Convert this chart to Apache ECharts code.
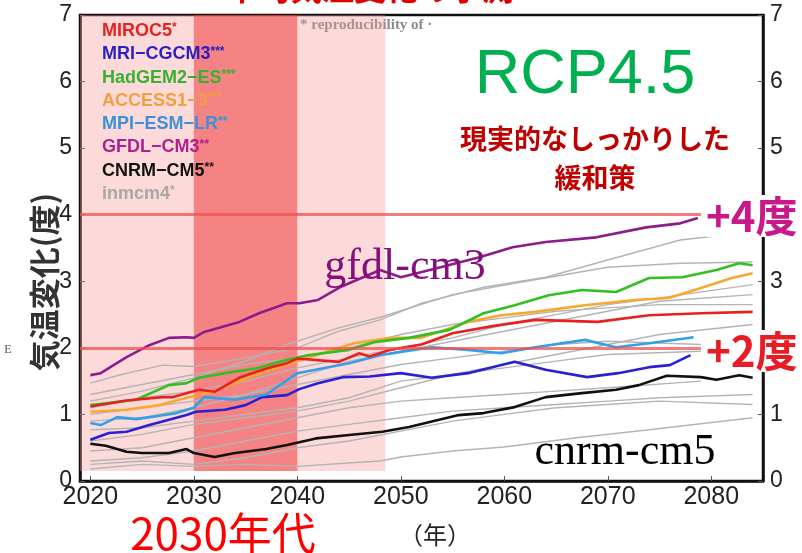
<!DOCTYPE html>
<html>
<head>
<meta charset="utf-8">
<script src="https://cdn.jsdelivr.net/npm/echarts@6/dist/echarts.min.js"></script>
<style>
  html, body { margin: 0; background: #fff; }
  #chart { width: 802px; height: 553px; }
</style>
</head>
<body>
<div id="chart"></div>
<script>
// x tick labels (years) and y ticks
const yearTicks = [2020, 2030, 2040, 2050, 2060, 2070, 2080]

// coloured models, [year, warming]
const miroc5 = [[2020,1.12],[2023.5,1.21],[2027,1.26],[2028,1.26],[2030.5,1.37],[2032,1.34],[2034.5,1.56],[2037,1.69],[2039,1.77],[2040,1.84],[2044,1.79],[2046,1.92],[2047,1.87],[2049,1.97],[2052,2.05],[2055,2.22],[2059,2.33],[2063,2.42],[2069,2.39],[2074,2.49],[2079,2.52],[2084,2.54]]
const mriCgcm3 = [[2020,0.62],[2021.8,0.72],[2023.5,0.74],[2025.7,0.84],[2027.6,0.92],[2029.3,0.99],[2030.2,1.04],[2033,1.07],[2035,1.14],[2036.6,1.26],[2039,1.29],[2040.2,1.38],[2042,1.47],[2044.4,1.56],[2047,1.57],[2050,1.62],[2053,1.55],[2056.5,1.62],[2061,1.79],[2064,1.67],[2068,1.56],[2071,1.62],[2074,1.71],[2076,1.74],[2078,1.89]]
const hadgem2Es = [[2020,1.14],[2024.4,1.22],[2027.6,1.44],[2029.3,1.47],[2030.5,1.55],[2033,1.62],[2036,1.69],[2039,1.82],[2041,1.89],[2045,1.97],[2047.6,2.09],[2050.8,2.15],[2054.7,2.27],[2058,2.52],[2061,2.64],[2064.3,2.79],[2067.5,2.87],[2070.8,2.84],[2074,3.05],[2077.2,3.06],[2080.5,3.17],[2082.7,3.27],[2084,3.24]]
const access13 = [[2020,1.04],[2023.5,1.07],[2026.7,1.14],[2029.3,1.25],[2032,1.35],[2036,1.6],[2040,1.8],[2043,1.95],[2045.5,2.07],[2049,2.15],[2052,2.15],[2056.5,2.39],[2059.7,2.49],[2063,2.54],[2067.8,2.64],[2072.6,2.72],[2075.9,2.75],[2079,2.9],[2082,3.05],[2084,3.12]]
const mpiEsmLr = [[2020,0.87],[2021,0.84],[2022.6,0.96],[2024.4,0.93],[2026.7,0.98],[2028.3,1.02],[2030,1.1],[2031,1.26],[2034,1.22],[2037,1.3],[2040,1.62],[2045,1.77],[2048,1.89],[2050,1.94],[2053,2.01],[2056.5,1.97],[2059.7,1.92],[2063,2.01],[2067.8,2.12],[2070.8,2.01],[2074,2.07],[2078.3,2.16]]
const gfdlCm3 = [[2020,1.59],[2021,1.62],[2023.5,1.86],[2025.7,2.04],[2027.6,2.15],[2029.3,2.16],[2030,2.15],[2031,2.24],[2034.4,2.39],[2036.3,2.52],[2039,2.67],[2040.2,2.67],[2042,2.72],[2044.1,2.91],[2048,3.17],[2050,3.06],[2052.8,3.17],[2057.6,3.36],[2060.8,3.51],[2064,3.59],[2068.9,3.66],[2073.7,3.81],[2077,3.87],[2078.7,3.95]]
const cnrmCm5 = [[2020,0.56],[2021.5,0.53],[2023.5,0.44],[2025,0.42],[2027.6,0.42],[2029.3,0.48],[2030,0.42],[2032,0.36],[2034,0.42],[2037,0.48],[2039,0.54],[2041.8,0.64],[2045,0.69],[2048.2,0.74],[2050.8,0.81],[2055.6,0.99],[2058,1.02],[2061,1.11],[2064,1.26],[2067.5,1.32],[2070.8,1.37],[2073,1.44],[2075.7,1.58],[2079,1.56],[2080.5,1.52],[2082.7,1.59],[2084,1.55]]

// the other (grey) models
const grayA = [[2020,1.47],[2023,1.6],[2027,1.74],[2030,1.72],[2035,1.85],[2040,2.0],[2044,2.25],[2048,2.42],[2052,2.67],[2058,2.91],[2064,3.06],[2070,3.32],[2077,3.62],[2084,3.74]]
const grayB = [[2020,1.2],[2025,1.35],[2030,1.55],[2035,1.8],[2039,2.05],[2044,2.3],[2048,2.46],[2055,2.8],[2061,2.97],[2070,3.21],[2077,3.27],[2084,3.29]]
const grayC = [[2020,1.1],[2025,1.25],[2030,1.35],[2035,1.5],[2040,1.7],[2045,1.85],[2050,2.0],[2055,2.15],[2060,2.35],[2065,2.5],[2070,2.65],[2075,2.75],[2084,2.95]]
const grayD = [[2020,0.9],[2025,0.95],[2030,1.1],[2035,1.3],[2040,1.55],[2045,1.8],[2050,1.95],[2055,2.1],[2060,2.25],[2065,2.4],[2070,2.55],[2075,2.7],[2084,2.8]]
const grayE = [[2020,0.6],[2025,0.7],[2030,0.85],[2035,0.95],[2040,1.05],[2045,1.2],[2050,1.4],[2055,1.6],[2060,1.75],[2065,1.9],[2070,2.05],[2075,2.2],[2084,2.35]]
const grayF = [[2020,1.0],[2025,1.1],[2030,1.2],[2035,1.3],[2040,1.45],[2045,1.6],[2050,1.75],[2055,1.85],[2060,1.95],[2065,2.05],[2070,2.1],[2079,2.05]]
const grayG = [[2020,0.77],[2025,0.8],[2030,0.9],[2035,1.0],[2040,1.1],[2045,1.25],[2050,1.5],[2055,1.6],[2060,1.7],[2065,1.8],[2070,1.9],[2079,1.95]]
const grayH = [[2020,0.45],[2025,0.5],[2030,0.65],[2035,0.8],[2040,0.95],[2045,1.1],[2050,1.2],[2055,1.25],[2060,1.3],[2065,1.35],[2070,1.4],[2079,1.5]]
const grayI = [[2020,0.3],[2025,0.35],[2030,0.45],[2035,0.6],[2040,0.75],[2045,0.85],[2050,0.95],[2055,1.05],[2060,1.1],[2065,1.15],[2070,1.2],[2075,1.25],[2084,1.3]]
const inmcm4 = [[2020,0.25],[2025,0.3],[2030,0.25],[2035,0.35],[2040,0.5],[2045,0.6],[2050,0.75],[2055,0.9],[2060,1.0],[2065,1.1],[2070,1.15],[2075,1.2],[2084,1.15]]
const grayK = [[2020,0.18],[2025,0.25],[2030,0.22],[2035,0.25],[2040,0.22],[2045,0.27],[2048,0.3],[2050,0.36],[2055,0.45],[2060,0.51],[2067,0.65],[2074,0.77],[2084,0.95]]
const grayL = [[2020,1.3],[2025,1.45],[2030,1.6],[2035,1.75],[2040,1.85],[2045,2.0],[2050,2.2],[2055,2.35],[2060,2.45],[2065,2.55],[2070,2.6],[2075,2.65],[2084,2.65]]

// legend
const legendNames = ['MIROC5', 'MRI−CGCM3', 'HadGEM2−ES', 'ACCESS1−3', 'MPI−ESM−LR', 'GFDL−CM3', 'CNRM−CM5', 'inmcm4']
const legendStars = ['*', '***', '***', '***', '**', '**', '**', '*']
const legendColors = ['#e8201e', '#2a1fc0', '#3ab030', '#f0a040', '#3c90d8', '#b01f8c', '#111111', '#a8a8a8']

const chart = echarts.init(document.getElementById('chart'))

function grayLine(data) {
  return {
    type: 'line', data: data, showSymbol: false, silent: true, z: 2,
    lineStyle: { color: '#b4b4b4', width: 1.4 }
  }
}
function modelLine(data, color) {
  return {
    type: 'line', data: data, showSymbol: false, silent: true, z: 3,
    lineStyle: { color: color, width: 2.6 }
  }
}

const legendText = legendNames.map((n, i) => ({
  type: 'text',
  left: 102,
  top: 22 + i * 23.3,
  style: {
    text: '{n|' + n + '}{s|' + legendStars[i] + '}',
    rich: {
      n: { fontSize: 18, fontWeight: 'bold', fontFamily: 'Liberation Sans', fill: legendColors[i] },
      s: { fontSize: 12, fontWeight: 'bold', fontFamily: 'Liberation Sans', fill: legendColors[i], verticalAlign: 'top' }
    }
  },
  z: 10
}))

chart.setOption({
  animation: false,
  grid: {
    left: 80, right: 39, top: 15, bottom: 72,
    show: true, borderColor: '#111', borderWidth: 2.5
  },
  xAxis: {
    type: 'value', min: 2019, max: 2085,
    splitLine: { show: false },
    axisLine: { lineStyle: { color: '#111', width: 2.5 } },
    axisTick: { inside: true, length: 5, customValues: yearTicks, lineStyle: { color: '#555' } },
    axisLabel: {
      customValues: yearTicks, margin: 4,
      formatter: v => String(v),
      fontSize: 25, color: '#222', fontFamily: 'Liberation Sans'
    }
  },
  yAxis: [
    {
      type: 'value', min: 0, max: 7, interval: 1,
      splitLine: { show: false },
      axisLine: { show: true, lineStyle: { color: '#111', width: 2.5 } },
      axisTick: { inside: true, length: 5, lineStyle: { color: '#555' } },
      axisLabel: { fontSize: 23, color: '#222', margin: 8, fontFamily: 'Liberation Sans' }
    },
    {
      type: 'value', min: 0, max: 7, interval: 1, position: 'right',
      splitLine: { show: false },
      axisLine: { show: true, lineStyle: { color: '#111', width: 2.5 } },
      axisTick: { inside: true, length: 5, lineStyle: { color: '#555' } },
      axisLabel: { fontSize: 23, color: '#222', margin: 7, fontFamily: 'Liberation Sans' }
    }
  ],
  series: [
    {
      // shaded periods and the +2 / +4 reference lines
      type: 'line', data: [], z: 1, silent: true,
      markArea: {
        silent: true,
        data: [
          [{ coord: [2019, 0.15], itemStyle: { color: 'rgba(250,150,150,0.35)' } }, { coord: [2048.5, 7] }],
          [{ coord: [2030, 0.15], itemStyle: { color: 'rgba(240,60,60,0.55)' } }, { coord: [2040, 7] }]
        ]
      },
      markLine: {
        silent: true, symbol: 'none', label: { show: false },
        lineStyle: { color: 'rgba(236,80,80,0.75)', width: 3, type: 'solid' },
        data: [
          [{ coord: [2019, 4] }, { coord: [2079, 4] }],
          [{ coord: [2019, 2] }, { coord: [2079, 2] }]
        ]
      }
    },
    grayLine(grayA), grayLine(grayB), grayLine(grayC), grayLine(grayD),
    grayLine(grayE), grayLine(grayF), grayLine(grayG), grayLine(grayH),
    grayLine(grayI), grayLine(inmcm4), grayLine(grayK), grayLine(grayL),
    modelLine(cnrmCm5, '#111111'),
    modelLine(mriCgcm3, '#2a20d0'),
    modelLine(mpiEsmLr, '#30a0e8'),
    modelLine(access13, '#f8a830'),
    modelLine(hadgem2Es, '#30c020'),
    modelLine(miroc5, '#e82020'),
    modelLine(gfdlCm3, '#8c1c8c')
  ],
  graphic: legendText.concat([
    {
      type: 'text', x: 370, y: 4,
      style: { text: '平均気温変化の予測', fontSize: 32, fontWeight: 'bold', fontFamily: 'Noto Sans CJK JP', fill: '#e00000', textAlign: 'center', textVerticalAlign: 'bottom' }
    },
    {
      type: 'text', x: 300, y: 25,
      style: { text: '* reproducibility of ·', fontSize: 15, fontWeight: 'bold', fontFamily: 'Liberation Serif', fill: '#8a8a8a', textVerticalAlign: 'middle' }
    },
    {
      type: 'text', x: 44, y: 282, rotation: Math.PI / 2,
      style: { text: '気温変化(度)', fontSize: 31, fontWeight: 'bold', fontFamily: 'Noto Sans CJK JP', fill: '#333', textAlign: 'center', textVerticalAlign: 'middle' }
    },
    {
      type: 'text', x: 8, y: 350,
      style: { text: 'E', fontSize: 12, fontFamily: 'Liberation Serif', fill: '#555', textAlign: 'center', textVerticalAlign: 'middle' }
    },
    {
      type: 'text', x: 585, y: 76, z: 10,
      style: { text: 'RCP4.5', fontSize: 63, fontFamily: 'Liberation Sans', fill: '#00b050', textAlign: 'center', textVerticalAlign: 'middle' }
    },
    {
      type: 'text', x: 595, y: 139, z: 10,
      style: { text: '現実的なしっかりした', fontSize: 27, fontWeight: 'bold', fontFamily: 'Noto Sans CJK JP', fill: '#c00000', textAlign: 'center', textVerticalAlign: 'middle' }
    },
    {
      type: 'text', x: 595, y: 178, z: 10,
      style: { text: '緩和策', fontSize: 27, fontWeight: 'bold', fontFamily: 'Noto Sans CJK JP', fill: '#c00000', textAlign: 'center', textVerticalAlign: 'middle' }
    },
    {
      type: 'text', x: 405, y: 245, z: 10,
      style: { text: 'gfdl-cm3', fontSize: 44, fontFamily: 'Liberation Serif', fill: '#85107a', textAlign: 'center', textVerticalAlign: 'alphabetic' }
    },
    {
      type: 'text', x: 625, y: 430, z: 10,
      style: { text: 'cnrm-cm5', fontSize: 44, fontFamily: 'Liberation Serif', fill: '#000', textAlign: 'center', textVerticalAlign: 'alphabetic' }
    },
    {
      type: 'text', x: 706, y: 216, z: 20,
      style: { text: '+4度', fontSize: 42, fontWeight: 'bold', fontFamily: 'Noto Sans CJK JP', fill: '#c8188a', backgroundColor: '#fff', textVerticalAlign: 'middle' }
    },
    {
      type: 'text', x: 706, y: 351, z: 20,
      style: { text: '+2度', fontSize: 42, fontWeight: 'bold', fontFamily: 'Noto Sans CJK JP', fill: '#e81c24', backgroundColor: '#fff', textVerticalAlign: 'middle' }
    },
    {
      type: 'text', x: 223, y: 533, z: 10,
      style: { text: '2030年代', fontSize: 44, fontFamily: 'Noto Sans CJK JP', fill: '#ff0000', textAlign: 'center', textVerticalAlign: 'middle' }
    },
    {
      type: 'text', x: 435, y: 535, z: 10,
      style: { text: '（年）', fontSize: 24, fontFamily: 'Noto Sans CJK JP', fill: '#222', textAlign: 'center', textVerticalAlign: 'middle' }
    }
  ])
})
</script>
</body>
</html>
